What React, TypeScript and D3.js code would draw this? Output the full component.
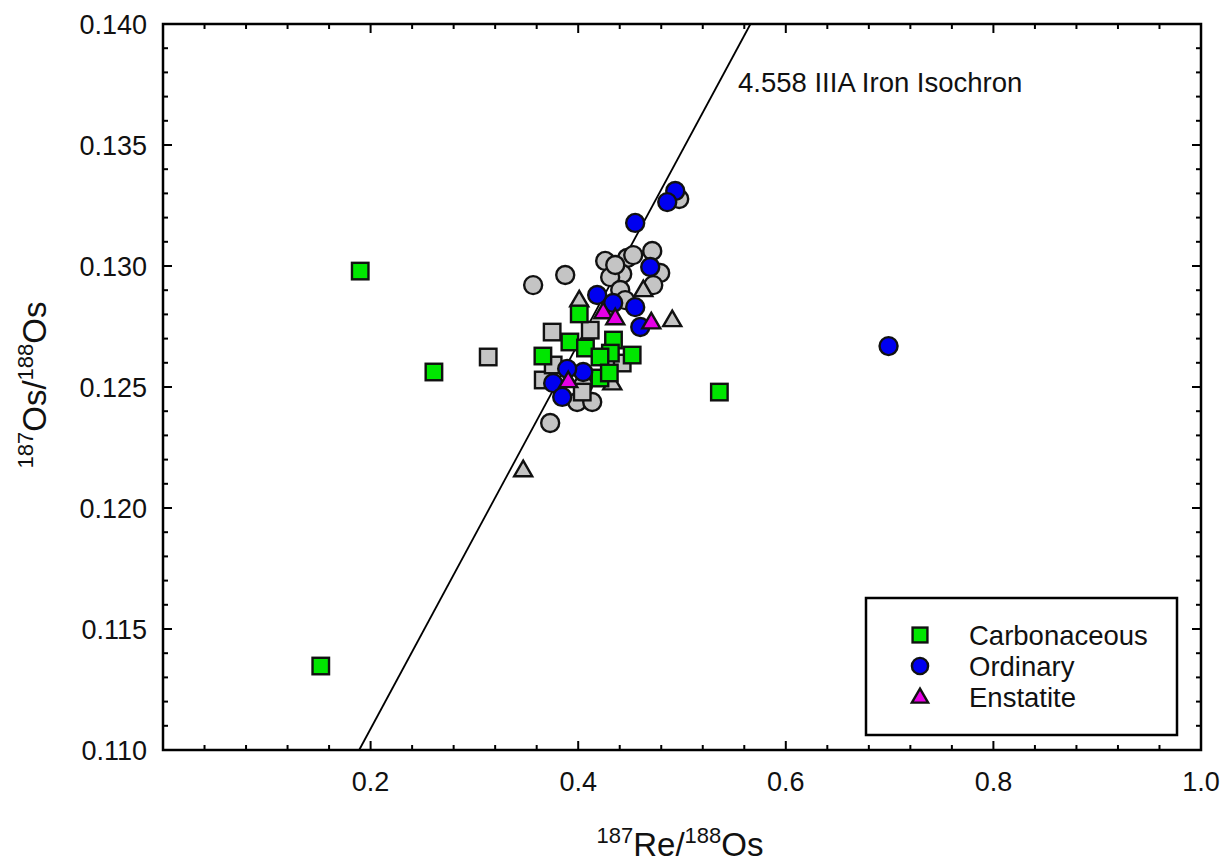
import React from "react";
import * as d3 from "d3";

// ---- data ----
const carbonaceousX = [0.152, 0.190, 0.261, 0.536, 0.366, 0.392, 0.401, 0.407, 0.434, 0.431, 0.421, 0.452, 0.421, 0.430];
const carbonaceousY = [0.11347, 0.12979, 0.12562, 0.12479, 0.12628, 0.12686, 0.12802, 0.12661, 0.12694, 0.12640, 0.12624, 0.12632, 0.12537, 0.12558];

const ordinaryX = [0.699, 0.4935, 0.4858, 0.4549, 0.4694, 0.4183, 0.4337, 0.4549, 0.4598, 0.3759, 0.3846, 0.4048, 0.3894];
const ordinaryY = [0.12669, 0.13310, 0.13264, 0.13178, 0.12996, 0.12880, 0.12847, 0.12830, 0.12748, 0.12516, 0.12459, 0.12562, 0.12575];

const enstatiteX = [0.4241, 0.4357, 0.4704, 0.3904];
const enstatiteY = [0.12810, 0.12785, 0.12768, 0.12525];

const otherCircleX = [0.3566, 0.3875, 0.4260, 0.4472, 0.4530, 0.4713, 0.4424, 0.4308, 0.4790, 0.4723, 0.4405, 0.4973, 0.3730, 0.3990, 0.4135, 0.4357, 0.4453, 0.4048];
const otherCircleY = [0.12921, 0.12963, 0.13021, 0.13033, 0.13045, 0.13062, 0.12967, 0.12954, 0.12971, 0.12921, 0.12901, 0.13277, 0.12351, 0.12438, 0.12438, 0.13004, 0.12859, 0.12508];

const otherSquareX = [0.3133, 0.3749, 0.3663, 0.4039, 0.4424, 0.3759, 0.4116];
const otherSquareY = [0.12624, 0.12727, 0.12529, 0.12479, 0.12599, 0.12591, 0.12735];

const otherTriangleX = [0.3470, 0.4010, 0.4627, 0.4906, 0.4328];
const otherTriangleY = [0.12157, 0.12859, 0.12901, 0.12777, 0.12516];

const xTicks = [0.2, 0.4, 0.6, 0.8, 1.0];
const yTicks = [0.110, 0.115, 0.120, 0.125, 0.130, 0.135, 0.140];

const isochronSlope = 0.07958;
const isochronIntercept = 0.09496;
const isochronLabel = "4.558 IIIA Iron Isochron";

const legendItems = [
  { name: "Carbonaceous", shape: "square", fill: "#00e600" },
  { name: "Ordinary", shape: "circle", fill: "#0000f0" },
  { name: "Enstatite", shape: "triangle", fill: "#e600e6" },
];

const FONT = "'Liberation Sans', Arial, sans-serif";

const M = { left: 163, right: 1201, top: 24, bottom: 750 };

function marker(shape: string, cx: number, cy: number, fill: string, key: string, size = 1) {
  const stroke = "#111";
  const sw = 2.4;
  if (shape === "square") {
    const s = 16.5 * size;
    return <rect key={key} x={cx - s / 2} y={cy - s / 2} width={s} height={s} fill={fill} stroke={stroke} strokeWidth={sw} />;
  }
  if (shape === "circle") {
    return <circle key={key} cx={cx} cy={cy} r={9 * size} fill={fill} stroke={stroke} strokeWidth={sw} />;
  }
  const h = 15.5 * size;
  const w = 18 * size;
  const p = `M${cx},${cy - h * 0.6} L${cx + w / 2},${cy + h * 0.4} L${cx - w / 2},${cy + h * 0.4} Z`;
  return <path key={key} d={p} fill={fill} stroke={stroke} strokeWidth={sw} strokeLinejoin="miter" />;
}

export default function App() {
  const x = d3.scaleLinear().domain([0, 1.0]).range([M.left, M.right]);
  const y = d3.scaleLinear().domain([0.110, 0.140]).range([M.bottom, M.top]);

  const xMinor = d3.range(0, 1.0001, 0.04).filter((v) => Math.abs(v / 0.2 - Math.round(v / 0.2)) > 1e-6);
  const xMajor = d3.range(0, 1.0001, 0.2);
  const yMinor = d3.range(0.110, 0.14001, 0.001).filter((v) => Math.abs(v / 0.005 - Math.round(v / 0.005)) > 1e-6);

  const ticks: JSX.Element[] = [];
  const majorLen = 9;
  const minorLen = 5;
  xMajor.forEach((v, i) => {
    const px = x(v);
    ticks.push(<line key={"xb" + i} x1={px} x2={px} y1={M.bottom} y2={M.bottom - majorLen} />);
    ticks.push(<line key={"xt" + i} x1={px} x2={px} y1={M.top} y2={M.top + majorLen} />);
  });
  xMinor.forEach((v, i) => {
    const px = x(v);
    ticks.push(<line key={"xbm" + i} x1={px} x2={px} y1={M.bottom} y2={M.bottom - minorLen} />);
    ticks.push(<line key={"xtm" + i} x1={px} x2={px} y1={M.top} y2={M.top + minorLen} />);
  });
  yTicks.forEach((v, i) => {
    const py = y(v);
    ticks.push(<line key={"yl" + i} x1={M.left} x2={M.left + majorLen} y1={py} y2={py} />);
    ticks.push(<line key={"yr" + i} x1={M.right} x2={M.right - majorLen} y1={py} y2={py} />);
  });
  yMinor.forEach((v, i) => {
    const py = y(v);
    ticks.push(<line key={"ylm" + i} x1={M.left} x2={M.left + minorLen} y1={py} y2={py} />);
    ticks.push(<line key={"yrm" + i} x1={M.right} x2={M.right - minorLen} y1={py} y2={py} />);
  });

  const xAtBottom = (0.110 - isochronIntercept) / isochronSlope;
  const xAtTop = (0.140 - isochronIntercept) / isochronSlope;
  const lineGen = d3.line<[number, number]>().x((d) => x(d[0])).y((d) => y(d[1]));
  const isoPath = lineGen([
    [xAtBottom, 0.110],
    [xAtTop, 0.140],
  ]);

  const gray = "#c4c4c4";

  return (
    <svg width={1229} height={863} style={{ position: "absolute", left: 0, top: 0, background: "#fff" }} fontFamily={FONT}>
      <rect x={0} y={0} width={1229} height={863} fill="#fff" />
      <path d={isoPath || ""} stroke="#000" strokeWidth={1.8} fill="none" />
      <text x={738} y={92} fontSize={27.5} fill="#111">{isochronLabel}</text>

      {otherCircleX.map((v, i) => marker("circle", x(v), y(otherCircleY[i]), gray, "gc" + i))}
      {otherSquareX.map((v, i) => marker("square", x(v), y(otherSquareY[i]), gray, "gs" + i))}
      {otherTriangleX.map((v, i) => marker("triangle", x(v), y(otherTriangleY[i]), gray, "gt" + i))}
      {carbonaceousX.map((v, i) => marker("square", x(v), y(carbonaceousY[i]), legendItems[0].fill, "c" + i))}
      {ordinaryX.map((v, i) => marker("circle", x(v), y(ordinaryY[i]), legendItems[1].fill, "o" + i))}
      {enstatiteX.map((v, i) => marker("triangle", x(v), y(enstatiteY[i]), legendItems[2].fill, "e" + i))}

      <g stroke="#000" strokeWidth={2}>{ticks}</g>
      <rect x={M.left} y={M.top} width={M.right - M.left} height={M.bottom - M.top} fill="none" stroke="#000" strokeWidth={2.5} />

      {xTicks.map((v, i) => (
        <text key={"xl" + i} x={x(v)} y={791} fontSize={27} textAnchor="middle" fill="#111">
          {d3.format(".1f")(v)}
        </text>
      ))}
      {yTicks.map((v, i) => (
        <text key={"yl" + i} x={147} y={y(v) + 9.5} fontSize={27} textAnchor="end" fill="#111">
          {d3.format(".3f")(v)}
        </text>
      ))}

      <text x={680} y={856} textAnchor="middle" fill="#111" fontSize={33}>
        <tspan fontSize={22} dy={-13}>187</tspan>
        <tspan dy={13}>Re/</tspan>
        <tspan fontSize={22} dy={-13}>188</tspan>
        <tspan dy={13}>Os</tspan>
      </text>
      <text transform={`translate(46,${385}) rotate(-90)`} textAnchor="middle" fill="#111" fontSize={33}>
        <tspan fontSize={22} dy={-13}>187</tspan>
        <tspan dy={13}>Os/</tspan>
        <tspan fontSize={22} dy={-13}>188</tspan>
        <tspan dy={13}>Os</tspan>
      </text>

      <rect x={866} y={598} width={311} height={137} fill="#fff" stroke="#000" strokeWidth={2.5} />
      {legendItems.map((it, i) => {
        const cy = 635 + i * 31;
        return (
          <g key={"lg" + i}>
            {marker(it.shape, 920, cy, it.fill, "lm" + i, 0.9)}
            <text x={969} y={cy + 10} fontSize={27.5} fill="#111">{it.name}</text>
          </g>
        );
      })}
    </svg>
  );
}
